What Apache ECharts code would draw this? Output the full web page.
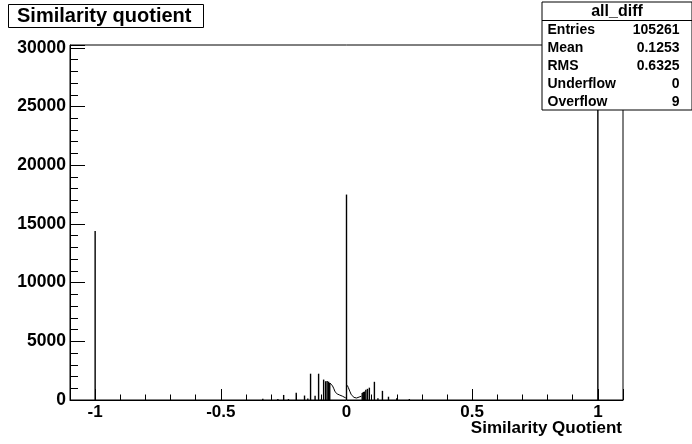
<!DOCTYPE html>
<html><head><meta charset="utf-8">
<script src="https://cdn.jsdelivr.net/npm/echarts@6/dist/echarts.min.js"></script>
<style>html,body{margin:0;padding:0;background:#fff}#c{width:692px;height:444px}</style>
</head><body><div id="c"></div>
<script>
// Histogram "all_diff" – isolated spikes (bin centre, entries)
const spikeX = [-1, -0.333, -0.273, -0.25, -0.231, -0.2, -0.167, -0.154, -0.143, -0.125, -0.111, -0.1, -0.091, -0.083, -0.077, -0.071, -0.0667,
                0, 0.0625, 0.0667, 0.0714, 0.0769, 0.0833, 0.0909, 0.111, 0.125, 0.143, 0.167, 0.2, 0.25, 1];
const spikeY = [14400, 110, 80, 430, 80, 620, 380, 120, 2240, 370, 2240, 100, 1740, 1600, 1620, 1560, 1450,
                17500, 600, 680, 720, 880, 950, 1050, 1550, 150, 780, 280, 150, 85, 28800];
// continuous shoulder left of zero
const humpLeftX = [-0.066, -0.0625, -0.0588, -0.0556, -0.0526, -0.05, -0.0476, -0.0455, -0.0435, -0.04, -0.037, -0.0345, -0.0303, -0.027, -0.0244, -0.02, -0.0167, -0.0135, -0.01, -0.006, -0.003];
const humpLeftY = [1450, 1350, 1300, 1200, 1080, 950, 800, 700, 620, 560, 520, 480, 450, 420, 390, 360, 330, 290, 250, 210, 180];
// continuous shoulder right of zero
const humpRightX = [0.003, 0.005, 0.0075, 0.01, 0.013, 0.016, 0.019, 0.022, 0.026, 0.03, 0.035, 0.04, 0.045, 0.05, 0.055, 0.059];
const humpRightY = [1250, 1150, 1050, 950, 750, 600, 450, 350, 280, 220, 180, 170, 200, 250, 310, 320];
// axis ranges
const xRange = [-1.1, 1.1];
const yMax = 30240;
const yStep = 5000;
// statistics box
const statTitle = 'all_diff';
const statLabels = ['Entries', 'Mean', 'RMS', 'Underflow', 'Overflow'];
const statValues = ['105261', '0.1253', '0.6325', '0', '9'];
const chartTitle = 'Similarity quotient';
const xTitle = 'Similarity Quotient';

const FONT = '"Liberation Sans", Arial, Helvetica, sans-serif';
const chart = echarts.init(document.getElementById('c'), null, {renderer: 'canvas'});

const statChildren = [
  {type: 'rect', z: 100, shape: {x: 0, y: 0, width: 150, height: 108}, style: {fill: '#fff', stroke: '#000', lineWidth: 1}},
  {type: 'line', z: 101, shape: {x1: 0, y1: 18.5, x2: 150, y2: 18.5}, style: {stroke: '#000', lineWidth: 1}},
  {type: 'text', z: 101, x: 75, y: 10, style: {text: statTitle, font: 'bold 16px ' + FONT, fill: '#000', align: 'center', verticalAlign: 'middle'}}
];
statLabels.forEach((l, i) => {
  statChildren.push({type: 'text', z: 101, x: 5.5, y: 28.5 + i * 18, style: {text: l, font: 'bold 14px ' + FONT, fill: '#000', align: 'left', verticalAlign: 'middle'}});
  statChildren.push({type: 'text', z: 101, x: 137.5, y: 28.5 + i * 18, style: {text: statValues[i], font: 'bold 14px ' + FONT, fill: '#000', align: 'right', verticalAlign: 'middle'}});
});

const option = {
  animation: false,
  backgroundColor: '#fff',
  grid: {left: 70, right: 69, top: 45, bottom: 44, show: true, borderColor: '#000', borderWidth: 1, backgroundColor: 'transparent'},
  xAxis: {
    type: 'value', min: xRange[0], max: xRange[1],
    axisLine: {show: true, onZero: false, lineStyle: {color: '#000', width: 1}},
    axisTick: {show: true, inside: true, length: 11, lineStyle: {color: '#000'}},
    minorTick: {show: true, splitNumber: 5, length: 5.5, lineStyle: {color: '#000'}},
    splitLine: {show: false}, minorSplitLine: {show: false},
    axisLabel: {show: true, showMinLabel: false, showMaxLabel: false, margin: 4, color: '#000', fontFamily: FONT, fontWeight: 'bold', fontSize: 17,
      formatter: v => String(v)}
  },
  yAxis: {
    type: 'value', min: 0, max: yMax, interval: yStep,
    axisLine: {show: true, onZero: false, lineStyle: {color: '#000', width: 1}},
    axisTick: {show: true, inside: true, length: 15, lineStyle: {color: '#000'}},
    minorTick: {show: true, splitNumber: 5, length: 8, lineStyle: {color: '#000'}},
    splitLine: {show: false}, minorSplitLine: {show: false},
    axisLabel: {show: true, showMaxLabel: false, margin: 4, color: '#000', fontFamily: FONT, fontWeight: 'bold', fontSize: 17.5,
      formatter: v => String(v)}
  },
  series: [
    {type: 'bar', barWidth: 1.4, itemStyle: {color: '#000'}, data: spikeX.map((x, i) => [x, spikeY[i]]), z: 3},
    {type: 'line', showSymbol: false, symbol: 'none', lineStyle: {color: '#000', width: 1}, data: humpLeftX.map((x, i) => [x, humpLeftY[i]]), z: 3},
    {type: 'line', showSymbol: false, symbol: 'none', lineStyle: {color: '#000', width: 1}, data: humpRightX.map((x, i) => [x, humpRightY[i]]), z: 3}
  ],
  graphic: [
    {type: 'group', left: 8, top: 4, z: 100, children: [
      {type: 'rect', z: 100, shape: {x: 0.5, y: 0.5, width: 195, height: 23}, style: {fill: '#fff', stroke: '#000', lineWidth: 1}},
      {type: 'text', z: 101, x: 9, y: 12.5, style: {text: chartTitle, font: 'bold 20px ' + FONT, fill: '#000', align: 'left', verticalAlign: 'middle'}}
    ]},
    {type: 'group', left: 539.5, top: 1.5, z: 100, children: statChildren},
    {type: 'text', right: 70, top: 420, z: 100, style: {text: xTitle, font: 'bold 17px ' + FONT, fill: '#000'}}
  ]
};
chart.setOption(option);
</script>
</body></html>
